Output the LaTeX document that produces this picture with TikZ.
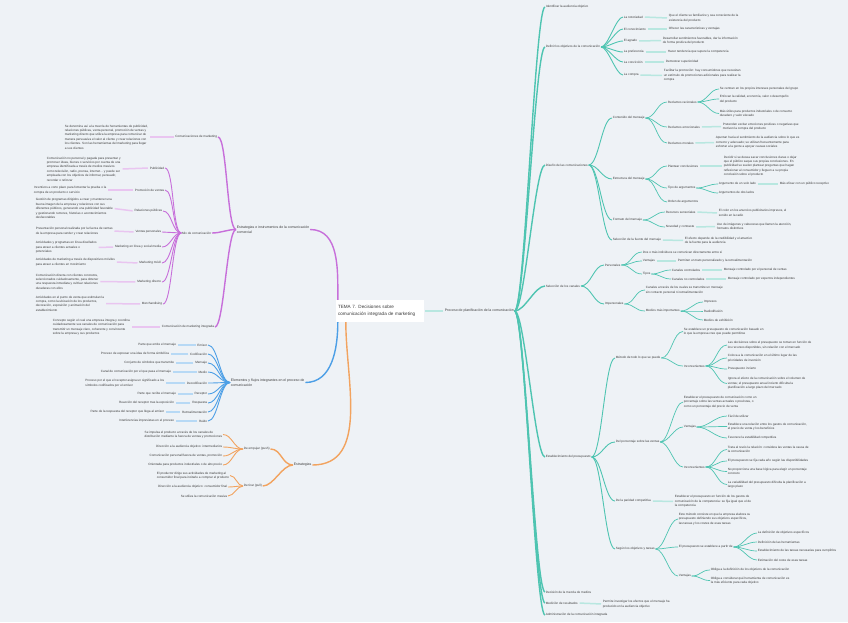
\documentclass[tikz,border=0pt]{standalone}
\usepackage{fontspec}
\setmainfont{Liberation Sans}
\definecolor{tl}{HTML}{4EC4B1}
\definecolor{pu}{HTML}{C76FDA}
\definecolor{bl}{HTML}{4C9FE6}
\definecolor{orc}{HTML}{F2A35F}
\definecolor{txtc}{HTML}{3A3A3A}
\definecolor{bgc}{HTML}{EEF2F6}
\newcommand\fsz{\fontsize{3.1}{4.4}\selectfont}
\newcommand\fmz{\fontsize{3.5}{4.6}\selectfont}
\newcommand\rc[4]{\draw[#1] (#2.east) to[out=0,in=180,distance=#3pt] (#4.west);}
\newcommand\lc[4]{\draw[#1] (#2.west) to[out=180,in=0,distance=#3pt] (#4.east);}
\newcommand\rd[3]{\draw[pd=#1] (#2.east) -- (#3.west);}
\newcommand\ld[3]{\draw[pd=#1] (#2.west) -- (#3.east);}
\begin{document}
\begin{tikzpicture}[x=1pt,y=-1pt,
  tx/.style={font=\fsz, text=txtc, inner sep=0.7pt, align=left},
  rn/.style={tx, anchor=west},
  ln/.style={tx, anchor=east},
  hd/.style={font=\fmz},
  pd/.style={line width=1.5pt, draw=#1!40, shorten >=1pt, shorten <=1pt},
  la/.style={line width=1.4pt},
  lb/.style={line width=0.9pt},
  lcc/.style={line width=0.7pt},
  ctrn/.style={fill=white, font=\fontsize{4.6}{7}\selectfont, text=txtc, align=left, minimum width=88pt, minimum height=22pt, inner sep=2pt, text width=84pt}
]
\useasboundingbox (0,0) rectangle (848,622);
\fill[bgc] (0,0) rectangle (848,622);

% ---------------- centre
\node[ctrn] (ctr) at (380,311) {TEMA 7. Decisiones sobre\\comunicación integrada de marketing};

% ---------------- teal (right)
\node[rn,hd] (T0) at (444,311) {Proceso de planificación de la comunicación};
\node[rn] (t1) at (545,7) {Identificar la audiencia objetivo};
\node[rn] (t2) at (545,47) {Definir los objetivos de la comunicación};
\node[rn] (t3) at (545,165) {Diseño de las comunicaciones};
\node[rn] (t4) at (545,286) {Selección de los canales};
\node[rn] (t5) at (545,457) {Establecimiento del presupuesto};
\node[rn] (t6) at (545,592) {Decisión de la mezcla de medios};
\node[rn] (t7) at (545,603) {Medición de resultados};
\node[rn] (t8) at (545,615) {Administración de la comunicación integrada};

% objetivos
\node[rn] (t21) at (623,17) {La notoriedad};
\node[rn] (t21d) at (668,18) {Que el cliente se familiarice y sea consciente de la\\existencia del producto};
\node[rn] (t22) at (623,29) {El conocimiento};
\node[rn] (t22d) at (668,29) {Ofrecer las características y ventajas};
\node[rn] (t23) at (623,41) {El agrado};
\node[rn] (t23d) at (662,40.5) {Desarrollar sentimientos favorables, dar la información\\de forma positiva del producto};
\node[rn] (t24) at (623,52) {La preferencia};
\node[rn] (t24d) at (667,52) {Hacer tendencia que supere la competencia};
\node[rn] (t25) at (623,62) {La convicción};
\node[rn] (t25d) at (665,62) {Demostrar superioridad};
\node[rn] (t26) at (623,75) {La compra};
\node[rn] (t26d) at (663,75.5) {Facilitar la promoción: hay consumidores que necesitan\\un estímulo de promociones adicionales para realizar la\\compra};

% diseño
\node[rn] (t31) at (612,118) {Contenido del mensaje};
\node[rn] (t32) at (612,179) {Estructura del mensaje};
\node[rn] (t33) at (612,220) {Formato del mensaje};
\node[rn] (t34) at (612,240) {Selección de la fuente del mensaje};
\node[rn] (t34d) at (684,240.5) {El efecto depende de la credibilidad y el atractivo\\de la fuente para la audiencia};

\node[rn] (t311) at (667,102) {Reclamos racionales};
\node[rn] (t3111) at (719,89) {Se centran en los propios intereses personales del grupo};
\node[rn] (t3112) at (719,99) {Enfocan la calidad, economía, valor o desempeño\\del producto};
\node[rn] (t3113) at (719,113.5) {Más útiles para productos industriales o de consumo\\duradero y valor elevado};
\node[rn] (t312) at (667,127) {Reclamos emocionales};
\node[rn] (t312d) at (722,126.5) {Pretenden excitar emociones positivas o negativas que\\motiven la compra del producto};
\node[rn] (t313) at (667,143) {Reclamos morales};
\node[rn] (t313d) at (715,142.5) {Apuntan hacia el sentimiento de la audiencia sobre lo que es\\correcto y adecuado; se utilizan frecuentemente para\\exhortar a la gente a apoyar causas sociales};

\node[rn] (t321) at (667,166) {Plantear conclusiones};
\node[rn] (t321d) at (723,166) {Decidir si se desea sacar conclusiones claras o dejar\\que el público saque sus propias conclusiones. En\\publicidad se suelen plantear preguntas que hagan\\reflexionar al consumidor y lleguen a su propia\\conclusión sobre el producto};
\node[rn] (t322) at (667,188) {Tipo de argumentos};
\node[rn] (t3221) at (718,184) {Argumento de un solo lado};
\node[rn] (t3221d) at (779,184) {Más eficaz con un público receptivo};
\node[rn] (t3222) at (718,193) {Argumentos de dos lados};
\node[rn] (t323) at (667,202) {Orden de argumentos};

\node[rn] (t331) at (665,212) {Recursos sensoriales};
\node[rn] (t331d) at (718,213) {El color en los anuncios publicitarios impresos, el\\sonido en la radio};
\node[rn] (t332) at (665,227) {Novedad y contraste};
\node[rn] (t332d) at (716,226.5) {Uso de imágenes y cabeceras que llamen la atención,\\formatos distintivos};

% canales
\node[rn] (t41) at (604,265) {Personales};
\node[rn] (t42) at (604,304) {Impersonales};
\node[rn] (t411) at (642,252) {Dos o más individuos se comunican directamente entre sí};
\node[rn] (t412) at (642,261) {Ventajas};
\node[rn] (t412d) at (677,261) {Permiten un trato personalizado y la retroalimentación};
\node[rn] (t413) at (642,274) {Tipos};
\node[rn] (t4131) at (671,270) {Canales controlados};
\node[rn] (t4131d) at (723,270) {Mensaje controlado por el personal de ventas};
\node[rn] (t4132) at (671,279) {Canales no controlados};
\node[rn] (t4132d) at (727,279) {Mensaje controlado por expertos independientes};
\node[rn] (t421) at (645,290) {Canales a través de los cuales se transmite un mensaje\\sin contacto personal ni retroalimentación};
\node[rn] (t422) at (645,311) {Medios más importantes};
\node[rn] (t4221) at (703,302) {Impresos};
\node[rn] (t4222) at (703,311) {Radiodifusión};
\node[rn] (t4223) at (703,320) {Medios de exhibición};

% presupuesto
\node[rn] (t51) at (615,358) {Método de todo lo que se puede};
\node[rn] (t52) at (615,442) {Del porcentaje sobre las ventas};
\node[rn] (t53) at (615,501) {De la paridad competitiva};
\node[rn] (t54) at (615,549) {Según los objetivos y tareas};

\node[rn] (t511) at (683,331.5) {Se establece un presupuesto de comunicación basado en\\lo que la empresa cree que puede permitirse};
\node[rn] (t512) at (683,366) {Inconvenientes};
\node[rn] (t5121) at (727,345) {Las decisiones sobre el presupuesto se toman en función de\\los recursos disponibles, sin relación con el mercado};
\node[rn] (t5122) at (727,358) {Coloca a la comunicación en el último lugar de las\\prioridades de inversión};
\node[rn] (t5123) at (727,369) {Presupuesto incierto};
\node[rn] (t5124) at (727,383.5) {Ignora el efecto de la comunicación sobre el volumen de\\ventas; el presupuesto anual incierto dificulta la\\planificación a largo plazo del mercado};

\node[rn] (t521) at (683,402) {Establecer el presupuesto de comunicación como un\\porcentaje sobre las ventas actuales o previstas, o\\como un porcentaje del precio de venta};
\node[rn] (t522) at (683,427) {Ventajas};
\node[rn] (t5221) at (727,416) {Fácil de utilizar};
\node[rn] (t5222) at (727,426.5) {Establece una relación entre los gastos de comunicación,\\el precio de venta y los beneficios};
\node[rn] (t5223) at (727,438) {Favorece la estabilidad competitiva};
\node[rn] (t523) at (683,467) {Inconvenientes};
\node[rn] (t5231) at (727,449.5) {Trata al revés la relación: considera las ventas la causa de\\la comunicación};
\node[rn] (t5232) at (727,461) {El presupuesto se fija cada año según las disponibilidades};
\node[rn] (t5233) at (727,471.5) {No proporciona una base lógica para elegir un porcentaje\\concreto};
\node[rn] (t5234) at (727,484.5) {La variabilidad del presupuesto dificulta la planificación a\\largo plazo};

\node[rn] (t53d) at (674,501.5) {Establecer el presupuesto en función de los gastos de\\comunicación de la competencia: se fija igual que el de\\la competencia};

\node[rn] (t541) at (678,519) {Este método consiste en que la empresa elabora su\\presupuesto definiendo sus objetivos específicos,\\las tareas y los costes de esas tareas};
\node[rn] (t542) at (678,547) {El presupuesto se establece a partir de};
\node[rn] (t5421) at (757,533) {La definición de objetivos específicos};
\node[rn] (t5422) at (757,542) {Definición de las herramientas};
\node[rn] (t5423) at (757,551) {Establecimiento de las tareas necesarias para cumplirlos};
\node[rn] (t5424) at (757,560) {Estimación del coste de esas tareas};
\node[rn] (t543) at (678,576) {Ventajas};
\node[rn] (t5431) at (710,570) {Obliga a la definición de los objetivos de la comunicación};
\node[rn] (t5432) at (710,580.5) {Obliga a considerar qué herramienta de comunicación es\\la más eficiente para cada objetivo};

\node[rn] (t7d) at (602,604) {Permite investigar los efectos que el mensaje ha\\producido en la audiencia objetivo};

% teal connectors
\draw[pd=tl] (ctr.east) -- (T0.west);
\foreach \c in {t1,t2,t3,t4,t5,t6,t7,t8} {\rc{tl,la}{T0}{10}{\c}}
\foreach \c in {t21,t22,t23,t24,t25,t26} {\rc{tl,lb}{t2}{7}{\c}}
\rd{tl}{t21}{t21d} \rd{tl}{t22}{t22d} \rd{tl}{t23}{t23d}
\rd{tl}{t24}{t24d} \rd{tl}{t25}{t25d} \rd{tl}{t26}{t26d}
\foreach \c in {t31,t32,t33,t34} {\rc{tl,lb}{t3}{10}{\c}}
\rd{tl}{t34}{t34d}
\foreach \c in {t311,t312,t313} {\rc{tl,lcc}{t31}{10}{\c}}
\foreach \c in {t3111,t3112,t3113} {\rc{tl,lcc}{t311}{9}{\c}}
\rd{tl}{t312}{t312d} \rd{tl}{t313}{t313d}
\foreach \c in {t321,t322,t323} {\rc{tl,lcc}{t32}{10}{\c}}
\rd{tl}{t321}{t321d}
\foreach \c in {t3221,t3222} {\rc{tl,lcc}{t322}{9}{\c}}
\rd{tl}{t3221}{t3221d}
\foreach \c in {t331,t332} {\rc{tl,lcc}{t33}{10}{\c}}
\rd{tl}{t331}{t331d} \rd{tl}{t332}{t332d}
\foreach \c in {t41,t42} {\rc{tl,lb}{t4}{10}{\c}}
\foreach \c in {t411,t412,t413} {\rc{tl,lcc}{t41}{10}{\c}}
\rd{tl}{t412}{t412d}
\foreach \c in {t4131,t4132} {\rc{tl,lcc}{t413}{9}{\c}}
\rd{tl}{t4131}{t4131d} \rd{tl}{t4132}{t4132d}
\foreach \c in {t421,t422} {\rc{tl,lcc}{t42}{10}{\c}}
\foreach \c in {t4221,t4222,t4223} {\rc{tl,lcc}{t422}{10}{\c}}
\foreach \c in {t51,t52,t53,t54} {\rc{tl,lb}{t5}{10}{\c}}
\foreach \c in {t511,t512} {\rc{tl,lcc}{t51}{10}{\c}}
\foreach \c in {t5121,t5122,t5123,t5124} {\rc{tl,lcc}{t512}{10}{\c}}
\foreach \c in {t521,t522,t523} {\rc{tl,lcc}{t52}{9}{\c}}
\foreach \c in {t5221,t5222,t5223} {\rc{tl,lcc}{t522}{12}{\c}}
\foreach \c in {t5231,t5232,t5233,t5234} {\rc{tl,lcc}{t523}{10}{\c}}
\rd{tl}{t53}{t53d}
\foreach \c in {t541,t542,t543} {\rc{tl,lcc}{t54}{9}{\c}}
\foreach \c in {t5421,t5422,t5423,t5424} {\rc{tl,lcc}{t542}{9}{\c}}
\foreach \c in {t5431,t5432} {\rc{tl,lcc}{t543}{9}{\c}}
\rd{tl}{t7}{t7d}

% ---------------- purple (upper left)
\node[rn,hd] (P0) at (236,229.5) {Estrategias e instrumentos de la comunicación\\comercial};
\node[ln] (p1) at (218,137) {Comunicaciones de marketing};
\node[rn] (p1d) at (64,137) {Se denomina así a la mezcla de herramientas de publicidad,\\relaciones públicas, venta personal, promoción de ventas y\\marketing directo que utiliza la empresa para comunicar de\\manera persuasiva el valor al cliente y crear relaciones con\\los clientes. Son las herramientas del marketing para llegar\\a sus clientes};
\node[ln] (p2) at (212,233) {Mix de comunicación};
\node[ln] (p3) at (215,327) {Comunicación de marketing integrada};
\node[rn] (p3d) at (52,327) {Concepto según el cual una empresa integra y coordina\\cuidadosamente sus canales de comunicación para\\transmitir un mensaje claro, coherente y convincente\\sobre la empresa y sus productos};

\node[ln] (p21) at (165,168) {Publicidad};
\node[rn] (p21d) at (46,169) {Comunicación no personal y pagada para presentar y\\promover ideas, bienes o servicios por cuenta de una\\empresa identificada a través de medios masivos\\como televisión, radio, prensa, internet... y puede ser\\empleada con los objetivos de informar, persuadir,\\recordar o reforzar};
\node[ln] (p22) at (165,190) {Promoción de ventas};
\node[rn] (p22d) at (33,190) {Incentivos a corto plazo para fomentar la prueba o la\\compra de un producto o servicio};
\node[ln] (p23) at (163,211) {Relaciones públicas};
\node[rn] (p23d) at (35,208.5) {Gestión de programas dirigidos a crear y mantener una\\buena imagen de la empresa y relaciones con sus\\diferentes públicos, generando una publicidad favorable\\y gestionando rumores, historias o acontecimientos\\desfavorables};
\node[ln] (p24) at (162,232) {Ventas personales};
\node[rn] (p24d) at (35,231) {Presentación personal realizada por la fuerza de ventas\\de la empresa para vender y crear relaciones};
\node[ln] (p25) at (162,247) {Marketing en línea y social media};
\node[rn] (p25d) at (35,247.5) {Actividades y programas en línea diseñados\\para atraer a clientes actuales o\\potenciales};
\node[ln] (p26) at (162,263) {Marketing móvil};
\node[rn] (p26d) at (35,262) {Actividades de marketing a través de dispositivos móviles\\para atraer a clientes en movimiento};
\node[ln] (p27) at (162,282) {Marketing directo};
\node[rn] (p27d) at (35,281.5) {Comunicación directa con clientes concretos,\\seleccionados cuidadosamente, para obtener\\una respuesta inmediata y cultivar relaciones\\duraderas con ellos};
\node[ln] (p28) at (163,304) {Merchandising};
\node[rn] (p28d) at (35,303.5) {Actividades en el punto de venta que estimulan la\\compra, como la ubicación de los productos,\\decoración, exposición y animación del\\establecimiento};

\draw[pu,la] (P0.east) to[out=0,in=90] ([xshift=2pt]ctr.north west);
\foreach \c in {p1,p2,p3} {\lc{pu,la}{P0}{9}{\c}}
\ld{pu}{p1}{p1d} \ld{pu}{p3}{p3d}
\foreach \c in {p21,p22,p23,p24,p25,p26,p27,p28} {\lc{pu,lb}{p2}{9}{\c}}
\ld{pu}{p21}{p21d} \ld{pu}{p22}{p22d} \ld{pu}{p23}{p23d} \ld{pu}{p24}{p24d}
\ld{pu}{p25}{p25d} \ld{pu}{p26}{p26d} \ld{pu}{p27}{p27d} \ld{pu}{p28}{p28d}

% ---------------- blue (left)
\node[rn,hd] (B0) at (230,382.5) {Elementos y flujos integrantes en el proceso de\\comunicación};
\node[ln] (b1) at (208,345) {Emisor};
\node[ln] (b1d) at (177,345) {Parte que emite el mensaje};
\node[ln] (b2) at (208,354) {Codificación};
\node[ln] (b2d) at (170,354) {Proceso de expresar una idea de forma simbólica};
\node[ln] (b3) at (208,363) {Mensaje};
\node[ln] (b3d) at (175,363) {Conjunto de símbolos que transmite};
\node[ln] (b4) at (208,372) {Medio};
\node[ln] (b4d) at (172,372) {Canal de comunicación por el que pasa el mensaje};
\node[ln] (b5) at (208,383) {Decodificación};
\node[ln] (b5d) at (165,383) {Proceso por el que el receptor asigna un significado a los\\símbolos codificados por el emisor};
\node[ln] (b6) at (208,394) {Receptor};
\node[ln] (b6d) at (177,394) {Parte que recibe el mensaje};
\node[ln] (b7) at (208,403) {Respuesta};
\node[ln] (b7d) at (175,403) {Reacción del receptor tras la exposición};
\node[ln] (b8) at (208,412) {Retroalimentación};
\node[ln] (b8d) at (165,412) {Parte de la respuesta del receptor que llega al emisor};
\node[ln] (b9) at (208,421) {Ruido};
\node[ln] (b9d) at (175,421) {Interferencias imprevistas en el proceso};

\draw[bl,la] ([xshift=2pt]ctr.south west) to[out=-90,in=0] (B0.east);
\foreach \c in {b1,b2,b3,b4,b5,b6,b7,b8,b9} {\lc{bl,lb}{B0}{10}{\c}}
\foreach \c in {1,...,9} {\ld{bl}{b\c}{b\c d}}

% ---------------- orange (lower left)
\node[rn,hd] (O0) at (293,465) {Estrategias};
\node[rn] (o1) at (243,449) {De empujar (push)};
\node[rn] (o2) at (243,486) {De tirar (pull)};
\node[ln] (o11) at (223,434.5) {Se impulsa el producto a través de los canales de\\distribución mediante la fuerza de ventas y promociones};
\node[ln] (o12) at (223,447) {Dirección a la audiencia objetivo: intermediarios};
\node[ln] (o13) at (223,456) {Comunicación personal/fuerza de ventas, promoción};
\node[ln] (o14) at (223,465) {Orientada para productos industriales o de alto precio};
\node[ln] (o21) at (230,475.5) {El productor dirige sus actividades de marketing al\\consumidor final para incitarle a comprar el producto};
\node[ln] (o22) at (228,487) {Dirección a la audiencia objetivo: consumidor final};
\node[ln] (o23) at (228,496) {Se utiliza la comunicación masiva};

\draw[orc,la] ([xshift=10pt]ctr.south west) to[out=-90,in=0] (O0.east);
\foreach \c in {o1,o2} {\lc{orc,la}{O0}{11}{\c}}
\foreach \c in {o11,o12,o13,o14} {\lc{orc,lb}{o1}{9}{\c}}
\foreach \c in {o21,o22,o23} {\lc{orc,lb}{o2}{6}{\c}}
\end{tikzpicture}
\end{document}
